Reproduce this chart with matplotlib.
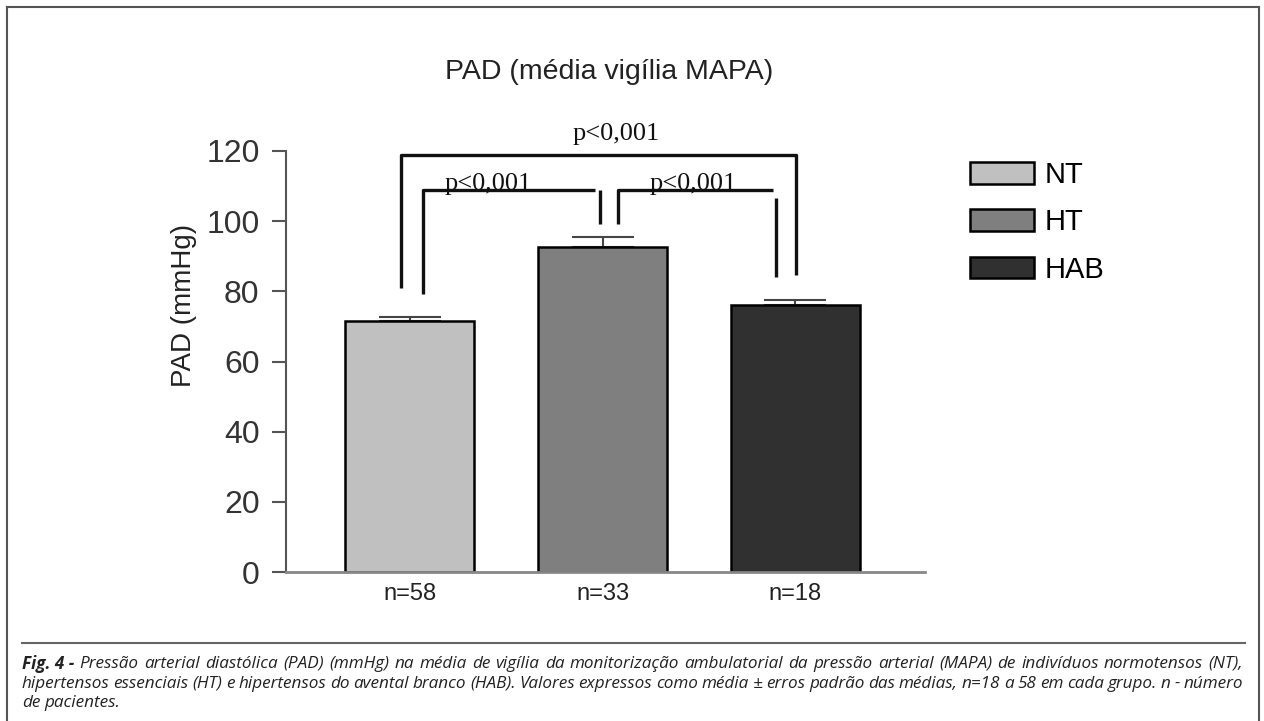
import matplotlib.pyplot as plt
from matplotlib.patches import Patch
from matplotlib.lines import Line2D

W, H = 1264, 721

groups = ['NT', 'HT', 'HAB']
means = [71.5, 92.5, 76.2]
sem = [1.3, 3.0, 1.3]
n_labels = ['n=58', 'n=33', 'n=18']
colors = ['#c0c0c0', '#7f7f7f', '#303030']
yticks = [0, 20, 40, 60, 80, 100, 120]
p_text = 'p<0,001'

caption_lines = [
    [('Fig. 4 -', 'bold')] + [(w, 'normal') for w in
     'Pressão arterial diastólica (PAD) (mmHg) na média de vigília da monitorização '
     'ambulatorial da pressão arterial (MAPA) de indivíduos normotensos (NT),'.split()],
    [(w, 'normal') for w in
     'hipertensos essenciais (HT) e hipertensos do avental branco (HAB). Valores expressos '
     'como média ± erros padrão das médias, n=18 a 58 em cada grupo. n - número'.split()],
    [(w, 'normal') for w in 'de pacientes.'.split()],
]

SANS = 'Liberation Sans'

fig = plt.figure(figsize=(W / 100, H / 100), dpi=100)
ax = fig.add_axes([286 / W, 1 - 572 / H, (925 - 286) / W, (572 - 151) / H])

x = list(range(len(groups)))
ax.bar(x, means, width=0.67, color=colors, edgecolor='black', linewidth=1.8, zorder=2)
ax.errorbar(x, means, yerr=[[0] * 3, sem], fmt='none', ecolor='#444444',
            elinewidth=1.5, capsize=22, capthick=1.5, zorder=1)

ax.set_xlim(-0.644, 2.675)
ax.set_ylim(0, 120)
ax.set_yticks(yticks)
ax.set_yticklabels([str(v) for v in yticks], fontfamily=SANS, fontsize=23, color='#333333')
ax.set_xticks(x)
ax.set_xticklabels(n_labels, fontfamily=SANS, fontsize=17, color='#222222')
ax.tick_params(axis='y', length=10, width=1.5, color='#555555', pad=9)
ax.tick_params(axis='x', length=0, pad=8)
for s in ['top', 'right']:
    ax.spines[s].set_visible(False)
ax.spines['left'].set_color('#555555')
ax.spines['left'].set_linewidth(1.5)
ax.spines['bottom'].set_color('#888888')
ax.spines['bottom'].set_linewidth(2)
ax.set_ylabel('PAD (mmHg)', fontfamily=SANS, fontsize=20, color='#222222')
ax.yaxis.set_label_coords(-0.139, 0.634)

# significance brackets
br = dict(color='#111111', lw=2.4, clip_on=False, solid_capstyle='butt')
ax.plot([-0.047, -0.047, 2.005, 2.005], [81, 119, 119, 84.7], **br)
ax.plot([0.068, 0.068, 0.96], [79.3, 108.8, 108.8], **br)
ax.plot([0.987, 0.987], [108.8, 99.2], **br)
ax.plot([1.08, 1.08, 1.886], [99.2, 108.8, 108.8], **br)
ax.plot([1.90, 1.90], [106.7, 84.2], **br)

ptxt = dict(fontfamily='Liberation Serif', fontsize=19, color='#111111',
            ha='center', va='baseline', clip_on=False)
ax.text(1.07, 123.2, p_text, **ptxt)
ax.text(0.405, 108.9, p_text, **ptxt)
ax.text(1.47, 108.9, p_text, **ptxt)

fig.text(609 / W, 1 - 72 / H, 'PAD (média vigília MAPA)', fontfamily=SANS,
         fontsize=20.5, color='#222222', ha='center', va='center')

handles = [Patch(facecolor=c, edgecolor='black', linewidth=1.8) for c in colors]
fig.legend(handles, groups, loc='upper left', bbox_to_anchor=(970 / W, 1 - 161 / H),
           frameon=False, borderpad=0, borderaxespad=0, handlelength=2.2,
           handleheight=0.75, handletextpad=0.35, labelspacing=0.66,
           prop={'family': SANS, 'size': 21})

# outer frame and caption rule
frame = dict(color='#555555', lw=1.5, transform=fig.transFigure)
fig.add_artist(Line2D([7 / W, 7 / W], [0, 1 - 7 / H], **frame))
fig.add_artist(Line2D([7 / W, 1259 / W], [1 - 7 / H, 1 - 7 / H], **frame))
fig.add_artist(Line2D([1259 / W, 1259 / W], [0, 1 - 7 / H], **frame))
fig.add_artist(Line2D([22 / W, 1245 / W], [1 - 643 / H, 1 - 643 / H], color='#666666',
                      lw=1.5, transform=fig.transFigure))

# caption, justified word by word
renderer = fig.canvas.get_renderer()
cap = dict(fontfamily='Open Sans', fontstyle='italic', color='#222222', va='center')


def width_px(s, size, weight='normal'):
    t = fig.text(0, 0, s, fontweight=weight, fontsize=size, **cap)
    w = t.get_window_extent(renderer).width
    t.remove()
    return w


x0, x1 = 22, 1243
first = caption_lines[0]
natural = sum(width_px(w, 10, wt) for w, wt in first) + \
    (len(first) - 1) * (width_px('a a', 10) - width_px('aa', 10))
size = 10 * (x1 - x0) / natural * 0.985
space = width_px('a a', size) - width_px('aa', size)

for i, (line, yc) in enumerate(zip(caption_lines, [664, 684, 703])):
    texts = [fig.text(0, 1 - yc / H, w, fontweight=wt, fontsize=size, **cap)
             for w, wt in line]
    widths = [t.get_window_extent(renderer).width for t in texts]
    if i < len(caption_lines) - 1:
        gap = (x1 - x0 - sum(widths)) / (len(texts) - 1)
    else:
        gap = space
    xp = x0
    for t, w in zip(texts, widths):
        t.set_x(xp / W)
        xp += w + gap

fig.savefig('out.png', dpi=100)
